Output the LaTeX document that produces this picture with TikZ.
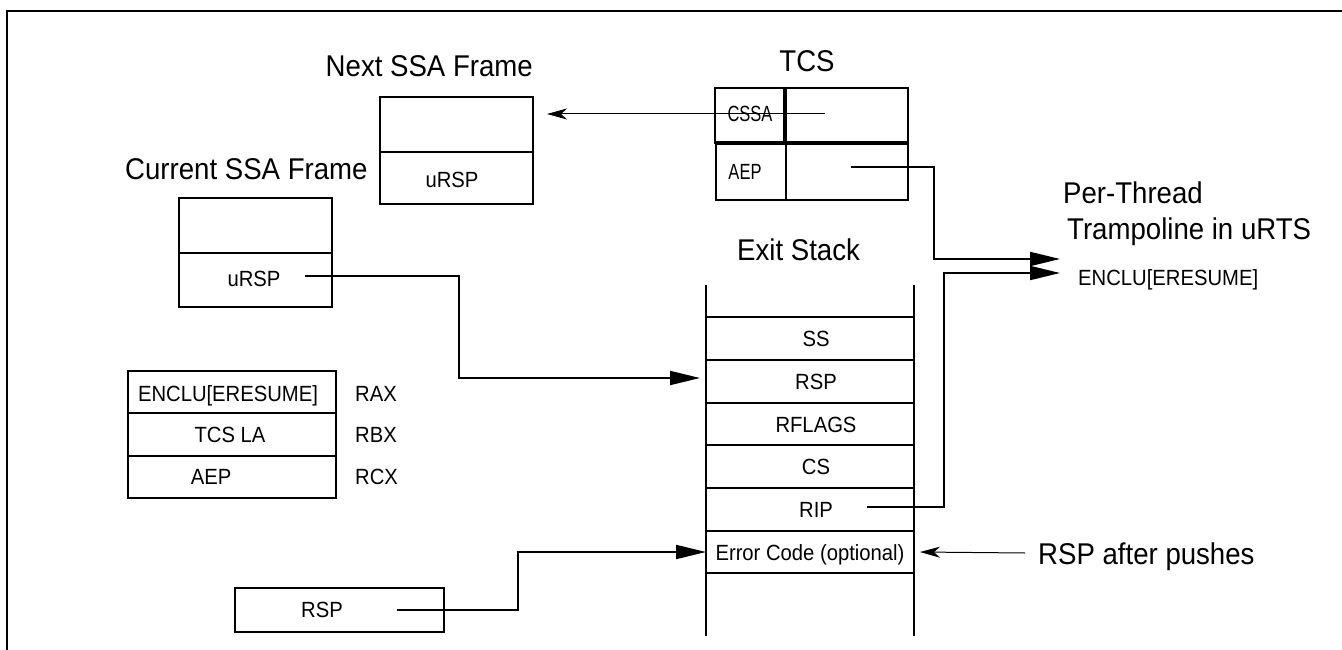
\documentclass[tikz,border=0pt]{standalone}
\usepackage{fontspec}
\setmainfont{Liberation Sans}[FakeStretch=0.92]
\newfontfamily\tcsfont{Liberation Sans}[FakeStretch=0.75]
\usetikzlibrary{arrows.meta}
\begin{document}
\begin{tikzpicture}[x=1pt,y=-1pt,
  cell/.style={draw,line width=2pt,inner sep=0pt,outer sep=0pt},
  bigtxt/.style={font=\fontsize{30}{34}\selectfont,inner sep=0pt,text height=22pt,text depth=0pt},
  smalltxt/.style={font=\fontsize{22}{26}\selectfont,inner sep=0pt,text height=16pt,text depth=0pt},
  tcstxt/.style={font=\tcsfont\fontsize{22}{26}\selectfont,inner sep=0pt,text height=16pt,text depth=0pt},
  bigarrow/.style={line width=2pt,-{Triangle[length=30pt,width=14pt]}},
  thinarrow/.style={line width=1pt,-{Stealth[length=20pt,width=11pt,inset=6pt]}},
  stackline/.style={line width=1.3pt},
  thickline/.style={line width=4pt}
]
\useasboundingbox (0,0) rectangle (1342,650);
% frame
\draw[line width=2.6pt] (7,650) -- (7,11) -- (1342,11);

% titles
\node[bigtxt,anchor=east] (nexttitle) at (533,66) {Next SSA Frame};
\node[bigtxt] (tcstitle) at (807,61) {TCS};
\node[bigtxt,anchor=west] (curtitle) at (125,169) {Current SSA Frame};
\node[bigtxt,anchor=west] (exittitle) at (737,249) {Exit Stack};
\node[bigtxt,anchor=west] (pt1) at (1063,193) {Per-Thread};
\node[bigtxt,anchor=west] (pt2) at (1067,228) {Trampoline in uRTS};
\node[smalltxt,anchor=west] (pt3) at (1078,277) {ENCLU[ERESUME]};
\node[bigtxt,anchor=west] (after) at (1038,553) {RSP after pushes};

% Next SSA frame
\node[cell,minimum width=153pt,minimum height=55pt] (nxA) at (456.5,124.5) {};
\node[cell,minimum width=153pt,minimum height=52pt] (nxB) at (456.5,178) {};
\node[smalltxt] (nxtxt) at (452,180) {uRSP};

% TCS
\node[cell,minimum width=70pt,minimum height=55pt] (tcsA) at (750,115.5) {};
\node[cell,minimum width=123pt,minimum height=55pt] (tcsB) at (846.5,115.5) {};
\node[cell,minimum width=70pt,minimum height=57pt] (tcsC) at (751,171.5) {};
\node[cell,minimum width=122pt,minimum height=57pt] (tcsD) at (847,171.5) {};
\draw[thickline] (tcsA.north east) -- (tcsA.south east);
\draw[thickline] (tcsA.south west) -- (tcsB.south east);
\node[tcstxt] (cssatxt) at (750,114) {CSSA};
\node[tcstxt] (aeptxt) at (745,172) {AEP};

% Current SSA frame
\node[cell,minimum width=153pt,minimum height=55pt] (curA) at (255.5,225.5) {};
\node[cell,minimum width=153pt,minimum height=54pt] (curB) at (255.5,280) {};
\node[smalltxt] (curtxt) at (254,278) {uRSP};

% register table
\node[cell,minimum width=208pt,minimum height=42pt] (regA) at (232,392) {};
\node[cell,minimum width=208pt,minimum height=43pt] (regB) at (232,434.5) {};
\node[cell,minimum width=208pt,minimum height=42pt] (regC) at (232,477) {};
\node[smalltxt] (regAt) at (228,393) {ENCLU[ERESUME]};
\node[smalltxt] (regBt) at (230,434) {TCS LA};
\node[smalltxt] (regCt) at (211,476) {AEP};
\node[smalltxt,anchor=west] (rax) at (355,393) {RAX};
\node[smalltxt,anchor=west] (rbx) at (355,434) {RBX};
\node[smalltxt,anchor=west] (rcx) at (355,476) {RCX};

% RSP box
\node[cell,minimum width=209pt,minimum height=44pt] (rspbox) at (339.5,610) {};
\node[smalltxt] (rsptxt) at (322,609) {RSP};

% exit stack
\draw[stackline] (706,285) -- (706,636);
\draw[stackline] (914,285) -- (914,636);
\node[cell,minimum width=208pt,minimum height=43pt] (stSS) at (810,338.5) {};
\node[cell,minimum width=208pt,minimum height=43pt] (stRSP) at (810,381.5) {};
\node[cell,minimum width=208pt,minimum height=42pt] (stRF) at (810,424) {};
\node[cell,minimum width=208pt,minimum height=43pt] (stCS) at (810,466.5) {};
\node[cell,minimum width=208pt,minimum height=43pt] (stRIP) at (810,509.5) {};
\node[cell,minimum width=208pt,minimum height=42pt] (stERR) at (810,552) {};
\node[smalltxt] at (stSS.center) [xshift=6pt] {SS};
\node[smalltxt] at (stRSP.center) [xshift=6pt] {RSP};
\node[smalltxt] at (stRF.center) [xshift=6pt] {RFLAGS};
\node[smalltxt] at (stCS.center) [xshift=6pt] {CS};
\node[smalltxt] at (stRIP.center) [xshift=6pt] {RIP};
\node[smalltxt] at (stERR.center) {Error Code (optional)};

% connectors
\coordinate (cssaS) at (825,114);
\coordinate (cssaT) at (547,114);
\draw[thinarrow] (cssaS) -- (cssaT);

\coordinate (aepS) at (851,167);
\coordinate (trampA) at (1060,259);
\draw[bigarrow] (aepS) -- ++(83,0) |- (trampA);

\coordinate (ripS) at (867,507);
\coordinate (trampB) at (1060,273);
\draw[bigarrow] (ripS) -- ++(77,0) |- (trampB);

\coordinate (curS) at (305,276);
\coordinate (stIn) at (700,378);
\draw[bigarrow] (curS) -- ++(154,0) |- (stIn);

\coordinate (rspS) at (397,610);
\draw[bigarrow] (rspS) -- ++(121,0) |- (stERR.west);

\draw[thinarrow] ([xshift=-13pt]after.west) -- ([xshift=6pt]stERR.east);
\end{tikzpicture}
\end{document}
